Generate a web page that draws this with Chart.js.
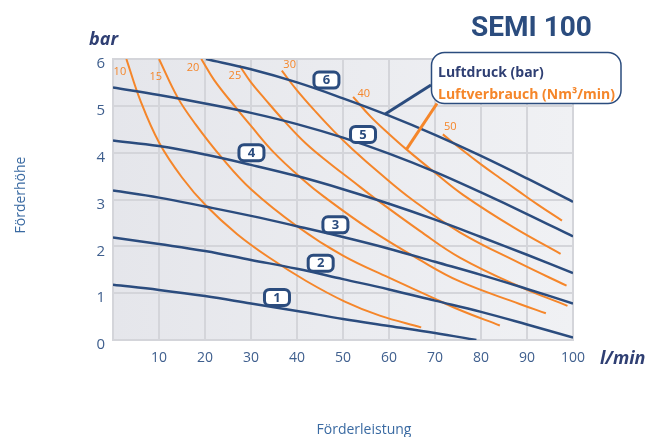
<!DOCTYPE html>
<html>
<head>
<meta charset="utf-8">
<script src="https://cdn.jsdelivr.net/npm/chart.js@4.4.1/dist/chart.umd.min.js"></script>
<style>
  html, body { margin:0; padding:0; background:#fff; }
  #wrap { width:656px; height:437px; position:relative; }
</style>
</head>
<body>
<div id="wrap"><canvas id="pump-chart"></canvas></div>
<script>
// axis ticks
const flowTicks = [0,10,20,30,40,50,60,70,80,90,100];
const headTicks = [0,1,2,3,4,5,6];

// Luftdruck (bar) curves: [l/min, bar]
const druck1 = [[0,1.18],[10,1.07],[20,0.94],[30,0.78],[40,0.62],[50,0.45],[60,0.3],[70,0.15],[79,0]];
const druck2 = [[0,2.19],[10,2.05],[20,1.9],[30,1.71],[40,1.52],[50,1.3],[60,1.08],[70,0.84],[80,0.6],[90,0.33],[100,0.05]];
const druck3 = [[0,3.19],[10,3.04],[20,2.85],[30,2.65],[40,2.43],[50,2.2],[60,1.95],[70,1.67],[80,1.39],[90,1.09],[100,0.78]];
const druck4 = [[0,4.26],[10,4.14],[20,3.96],[30,3.74],[40,3.5],[50,3.22],[60,2.91],[70,2.57],[80,2.2],[90,1.82],[100,1.43]];
const druck5 = [[0,5.39],[10,5.23],[20,5.05],[30,4.85],[40,4.61],[50,4.32],[60,3.98],[70,3.59],[80,3.15],[90,2.69],[100,2.21]];
const druck6 = [[20.2,6],[30,5.78],[40,5.5],[50,5.16],[60,4.79],[70,4.38],[80,3.93],[90,3.45],[100,2.95]];

// Luftverbrauch (Nm3/min) curves
const verbrauch10 = [[2.9,6],[6,5.1],[10.1,4.2],[15,3.47],[20.3,2.86],[27,2.26],[34.1,1.75],[42,1.26],[50.4,0.82],[58,0.52],[67,0.27]];
const verbrauch15 = [[10,6],[14.1,5.17],[18,4.6],[23.6,3.9],[30,3.22],[40,2.43],[50,1.8],[60,1.33],[67.8,0.98],[75.4,0.64],[84.1,0.31]];
const verbrauch20 = [[19.2,6],[22,5.55],[26.8,4.95],[30,4.57],[35,4.0],[41,3.45],[46,3.05],[56,2.35],[66.7,1.71],[75.4,1.25],[88.4,0.77],[94.1,0.57]];
const verbrauch25 = [[27.5,5.86],[30,5.5],[33,5.15],[37,4.7],[42,4.19],[47,3.78],[52,3.4],[57,3.02],[66.7,2.33],[75.4,1.76],[88.4,1.14],[98.8,0.73]];
const verbrauch30 = [[36.7,5.75],[40,5.33],[44,4.88],[48,4.46],[52,4.08],[58,3.56],[65,3.0],[75.4,2.3],[88.4,1.64],[98.6,1.16]];
const verbrauch40 = [[52.2,5.19],[56,4.77],[60,4.4],[63.8,4.07],[70,3.57],[76.1,3.1],[87,2.41],[97.3,1.84]];
const verbrauch50 = [[71.7,4.39],[76,4.05],[80,3.75],[84.1,3.46],[88,3.19],[92.5,2.88],[97.6,2.55]];

// tags placed on the curves (l/min, bar)
const druckTags = [['1',35.65,0.91],['2',45.15,1.64],['3',48.35,2.46],['4',30.1,4.0],['5',54.35,4.39],['6',46.4,5.55]];
const verbrauchTags = [['10',1.5,5.73],['15',9.3,5.62],['20',17.4,5.82],['25',26.5,5.64],['30',38.4,5.87],['40',54.5,5.26],['50',73.3,4.55]];

const BLUE = '#2b4c7e';
const ORANGE = '#f5862a';
const TXT = '#3f5f8e';

function pts(arr){ return arr.map(p => ({x:p[0], y:p[1]})); }

const druckSets = [druck1,druck2,druck3,druck4,druck5,druck6].map((d,i) => ({
  label:'Luftdruck '+(i+1),
  data:pts(d),
  borderColor:BLUE,
  borderWidth:2.5,
  pointRadius:0,
  fill:false,
  tension:0.4,
  order:1
}));
const verbrauchSets = [verbrauch10,verbrauch15,verbrauch20,verbrauch25,verbrauch30,verbrauch40,verbrauch50].map((d,i) => ({
  label:'Luftverbrauch '+verbrauchTags[i][0],
  data:pts(d),
  borderColor:ORANGE,
  borderWidth:2,
  pointRadius:0,
  fill:false,
  tension:0.4,
  order:2
}));

// plot background, tags, legend box and texts
const decor = {
  id:'decor',
  beforeDraw(chart){
    const {ctx, chartArea:a} = chart;
    const g = ctx.createLinearGradient(a.left,0,a.right,0);
    g.addColorStop(0,'#e5e6eb');
    g.addColorStop(1,'#f0f1f4');
    ctx.save();
    ctx.fillStyle = g;
    ctx.fillRect(a.left,a.top,a.width,a.height);
    ctx.restore();
  },
  afterDatasetsDraw(chart){
    const {ctx, scales:{x,y}} = chart;
    ctx.save();

    // orange value tags
    ctx.fillStyle = ORANGE;
    ctx.font = '11px "Open Sans"';
    ctx.textAlign = 'center';
    ctx.textBaseline = 'middle';
    verbrauchTags.forEach(t => ctx.fillText(t[0], x.getPixelForValue(t[1]), y.getPixelForValue(t[2])));

    // leader lines to the legend box
    ctx.lineWidth = 3;
    ctx.strokeStyle = BLUE;
    ctx.beginPath();
    ctx.moveTo(x.getPixelForValue(59.1), y.getPixelForValue(4.82));
    ctx.lineTo(431,85);
    ctx.stroke();
    ctx.strokeStyle = ORANGE;
    ctx.beginPath();
    ctx.moveTo(x.getPixelForValue(63.8), y.getPixelForValue(4.07));
    ctx.lineTo(437,103.5);
    ctx.stroke();

    // numbered boxes on the pressure lines
    druckTags.forEach(t => {
      const cx = x.getPixelForValue(t[1]);
      const cy = y.getPixelForValue(t[2]);
      ctx.beginPath();
      ctx.roundRect(cx-12.5, cy-8, 25, 16, 5);
      ctx.fillStyle = '#fff';
      ctx.fill();
      ctx.lineWidth = 3;
      ctx.strokeStyle = BLUE;
      ctx.stroke();
      ctx.fillStyle = BLUE;
      ctx.font = 'bold 13px "Open Sans"';
      ctx.fillText(t[0], cx, cy+0.5);
    });

    // legend box
    ctx.beginPath();
    ctx.roundRect(431.5,52.5,189.5,51,13);
    ctx.fillStyle = '#fff';
    ctx.fill();
    ctx.lineWidth = 1.5;
    ctx.strokeStyle = BLUE;
    ctx.stroke();
    ctx.textAlign = 'left';
    ctx.textBaseline = 'alphabetic';
    ctx.font = 'bold 14px "Open Sans"';
    ctx.fillStyle = '#2f3f73';
    ctx.fillText('Luftdruck (bar)', 438, 77);
    ctx.fillStyle = ORANGE;
    ctx.fillText('Luftverbrauch (Nm³/min)', 438, 98.5);

    // title
    ctx.fillStyle = BLUE;
    ctx.font = 'bold 28px Roboto';
    ctx.fillText('SEMI 100', 471, 36);

    // units
    ctx.fillStyle = '#2f3f73';
    ctx.font = 'italic bold 18px "Open Sans"';
    ctx.fillText('bar', 89, 45);
    ctx.fillText('l/min', 600, 364);

    // axis titles
    ctx.fillStyle = '#3a6aa2';
    ctx.font = '14px "Open Sans"';
    ctx.textAlign = 'center';
    ctx.fillText('Förderleistung', 364, 434);
    ctx.translate(25,195);
    ctx.rotate(-Math.PI/2);
    ctx.fillText('Förderhöhe', 0, 0);
    ctx.restore();
  }
};

const config = {
  type:'line',
  data:{ datasets:[...verbrauchSets, ...druckSets] },
  options:{
    responsive:true,
    maintainAspectRatio:false,
    animation:false,
    layout:{ padding:{ left:0, top:59, right:83, bottom:0 } },
    plugins:{ legend:{display:false}, tooltip:{enabled:false} },
    scales:{
      x:{
        type:'linear', min:0, max:100,
        afterBuildTicks(s){ s.ticks = flowTicks.map(v => ({value:v})); },
        afterFit(s){ s.height = 97; },
        grid:{ color:'#d4d5da', lineWidth:2, drawTicks:false },
        border:{ color:'#d4d5da', width:2 },
        ticks:{ color:TXT, font:{family:'Open Sans', size:14}, padding:10,
          callback:v => v === 0 ? '' : v }
      },
      y:{
        type:'linear', min:0, max:6,
        afterBuildTicks(s){ s.ticks = headTicks.map(v => ({value:v})); },
        afterFit(s){ s.width = 113; },
        grid:{ color:'#d4d5da', lineWidth:2, drawTicks:false },
        border:{ color:'#d4d5da', width:2 },
        ticks:{ color:TXT, font:{family:'Open Sans', size:15}, padding:8, labelOffset:5 }
      }
    }
  },
  plugins:[decor]
};

const myChart = new Chart(document.getElementById('pump-chart'), config);
</script>
</body>
</html>
